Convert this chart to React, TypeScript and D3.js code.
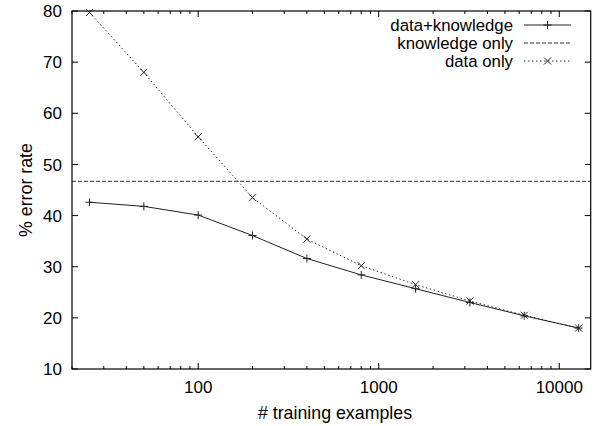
import React from "react";
import * as d3 from "d3";

const trainingSizes = [25, 50, 100, 200, 400, 800, 1600, 3200, 6400, 12800];
const dataKnowledge = [42.6, 41.8, 40.1, 36.1, 31.6, 28.4, 25.7, 23.0, 20.4, 18.0];
const dataOnly = [79.7, 68.0, 55.4, 43.5, 35.4, 30.2, 26.5, 23.3, 20.5, 18.0];
const knowledgeOnly = 46.7;
const yTicks = [10, 20, 30, 40, 50, 60, 70, 80];
const xMajorTicks = [100, 1000, 10000];
const legendLabels = ["data+knowledge", "knowledge only", "data only"];

const W = 607, H = 426;
const L = 72, R = 590.7, T = 11, B = 369;
const FONT = "'Liberation Sans', Arial, Helvetica, sans-serif";

export default function App() {
  const x = d3.scaleLog().domain([20, 14930]).range([L, R]);
  const y = d3.scaleLinear().domain([10, 80]).range([B, T]);
  const line = d3.line<[number, number]>().x(d => x(d[0])).y(d => y(d[1]));
  const dk: [number, number][] = trainingSizes.map((s, i) => [s, dataKnowledge[i]]);
  const d0: [number, number][] = trainingSizes.map((s, i) => [s, dataOnly[i]]);

  const minor: number[] = [];
  for (let e = 1; e <= 4; e++) {
    for (let m = 2; m <= 9; m++) {
      const v = m * Math.pow(10, e);
      if (v >= 20 && v <= 14930) minor.push(v);
    }
  }
  const col = "#222";
  const plus = (cx: number, cy: number, k: string) => (
    <g key={k} stroke={col} strokeWidth={1}>
      <line x1={cx - 4} x2={cx + 4} y1={cy} y2={cy} />
      <line x1={cx} x2={cx} y1={cy - 4} y2={cy + 4} />
    </g>
  );
  const cross = (cx: number, cy: number, k: string) => (
    <g key={k} stroke={col} strokeWidth={1}>
      <line x1={cx - 3.5} x2={cx + 3.5} y1={cy - 3.5} y2={cy + 3.5} />
      <line x1={cx - 3.5} x2={cx + 3.5} y1={cy + 3.5} y2={cy - 3.5} />
    </g>
  );
  const legendY = [25, 43, 61];
  const legX1 = 524, legX2 = 571;

  return (
    <svg width={W} height={H} style={{ position: "absolute", left: 0, top: 0, background: "#fff" }}>
      <rect x={0} y={0} width={W} height={H} fill="#fff" />
      <g stroke="#000" strokeWidth={1}>
        {yTicks.map(t => (
          <g key={"yt" + t}>
            <line x1={L} x2={L + 6} y1={y(t)} y2={y(t)} />
            <line x1={R} x2={R - 6} y1={y(t)} y2={y(t)} />
          </g>
        ))}
        {xMajorTicks.map(t => (
          <g key={"xt" + t}>
            <line x1={x(t)} x2={x(t)} y1={B} y2={B - 6} />
            <line x1={x(t)} x2={x(t)} y1={T} y2={T + 6} />
          </g>
        ))}
        {minor.map(t => (
          <g key={"mt" + t}>
            <line x1={x(t)} x2={x(t)} y1={B} y2={B - 3} />
            <line x1={x(t)} x2={x(t)} y1={T} y2={T + 3} />
          </g>
        ))}
      </g>
      <line x1={L} x2={R} y1={y(knowledgeOnly)} y2={y(knowledgeOnly)} stroke="#333" strokeWidth={1} strokeDasharray="4,2" />
      <path d={line(d0) || ""} fill="none" stroke="#333" strokeWidth={1} strokeDasharray="1.5,2.5" />
      <path d={line(dk) || ""} fill="none" stroke={col} strokeWidth={1} />
      {dk.map((p, i) => plus(x(p[0]), y(p[1]), "p" + i))}
      {d0.map((p, i) => cross(x(p[0]), y(p[1]), "c" + i))}
      <rect x={L} y={T} width={R - L} height={B - T} fill="none" stroke="#000" strokeWidth={1.2} />
      <g fontFamily={FONT} fontSize={17} fill="#000">
        {yTicks.map(t => (
          <text key={"yl" + t} x={L - 10} y={y(t)} dy="0.36em" textAnchor="end">{t}</text>
        ))}
        {xMajorTicks.map(t => (
          <text key={"xl" + t} x={x(t)} y={B + 24} textAnchor="middle">{t}</text>
        ))}
      </g>
      <g fontFamily={FONT} fontSize={17.8} fill="#000">
        <text x={335} y={419} textAnchor="middle"># training examples</text>
        <text transform={`translate(32,190) rotate(-90)`} textAnchor="middle">% error rate</text>
      </g>
      <g fontFamily={FONT} fontSize={16.8} fill="#000">
        {legendLabels.map((lab, i) => (
          <text key={"lg" + i} x={513} y={legendY[i]} dy="0.35em" textAnchor="end">{lab}</text>
        ))}
      </g>
      <line x1={legX1} x2={legX2} y1={legendY[0]} y2={legendY[0]} stroke={col} strokeWidth={1} />
      {plus((legX1 + legX2) / 2, legendY[0], "lp")}
      <line x1={legX1} x2={legX2} y1={legendY[1]} y2={legendY[1]} stroke="#333" strokeWidth={1} strokeDasharray="4,2" />
      <line x1={legX1} x2={legX2} y1={legendY[2]} y2={legendY[2]} stroke="#333" strokeWidth={1} strokeDasharray="1.5,2.5" />
      {cross((legX1 + legX2) / 2, legendY[2], "lc")}
    </svg>
  );
}
